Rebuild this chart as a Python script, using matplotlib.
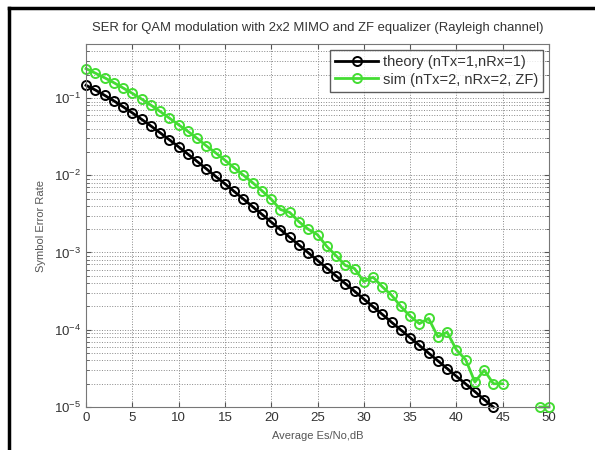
import numpy as np
import matplotlib.pyplot as plt
from matplotlib.lines import Line2D

# Es/No axis (dB)
snr_theory = list(range(0, 45))
snr_sim = list(range(0, 51))

ser_theory = [0.146, 0.127, 0.1085, 0.0919, 0.0771, 0.0642, 0.0530, 0.0435, 0.0355, 0.0288,
              0.0233, 0.0188, 0.0151, 0.0121, 0.00967, 0.00774, 0.00617, 0.00492, 0.00391, 0.00312,
              0.00248, 0.00198, 0.00157, 0.00125, 0.000994, 0.000790, 0.000628, 0.000499, 0.000396, 0.000315,
              0.000250, 0.000199, 0.000158, 0.000125, 9.95e-5, 7.91e-5, 6.28e-5, 4.99e-5, 3.96e-5, 3.15e-5,
              2.50e-5, 1.99e-5, 1.58e-5, 1.25e-5, 9.95e-6]

# nan = no errors counted (not drawn on log scale)
ser_sim = [0.24, 0.21, 0.183, 0.158, 0.135, 0.115, 0.097, 0.081, 0.067, 0.055,
           0.045, 0.037, 0.030, 0.024, 0.0195, 0.0157, 0.0125, 0.0100, 0.0080, 0.0063,
           0.0049, 0.0036, 0.0033, 0.0025, 0.0020, 0.0017, 0.0012, 0.00091, 0.00068, 0.00062,
           0.00042, 0.00048, 0.00036, 0.00028, 0.00020, 0.00015, 0.00012, 0.00014, 8.1e-5, 9.3e-5,
           5.5e-5, 4.1e-5, 2.1e-5, 3.0e-5, 2.0e-5, 2.0e-5, np.nan, np.nan, np.nan, 1e-5,
           1e-5]

labels = ['theory (nTx=1,nRx=1)', 'sim (nTx=2, nRx=2, ZF)']
green = '#44dd33'
txt = '#333333'

plt.rcParams['font.family'] = 'Liberation Sans'
plt.rcParams['mathtext.default'] = 'regular'

fig = plt.figure(figsize=(5.95, 4.5), dpi=100)
ax = fig.add_axes([86/595, 43/450, 463/595, 363/450])

ax.semilogy(snr_theory, ser_theory, 'o-', color='k', lw=2, ms=6.5, mfc='none', mew=1.4,
            label=labels[0], clip_on=False)
ax.semilogy(snr_sim, ser_sim, 'o-', color=green, lw=2, ms=6.5, mfc='none', mew=1.4,
            label=labels[1], clip_on=False)

ax.set_xlim(0, 50)
ax.set_ylim(1e-5, 0.5)
ax.set_xticks(range(0, 51, 5))
ax.grid(True, which='major', ls=':', color='#888888', lw=0.7)
ax.grid(True, which='minor', axis='y', ls=':', color='#888888', lw=0.7)
ax.tick_params(which='both', direction='in', top=True, right=True, labelsize=9.5, colors='#555555',
               labelcolor=txt)
for s in ax.spines.values():
    s.set_color('#777777')

ax.set_title('SER for QAM modulation with 2x2 MIMO and ZF equalizer (Rayleigh channel)',
             fontsize=9.4, color=txt, pad=9)
ax.set_xlabel('Average Es/No,dB', fontsize=8, color='#555555', labelpad=5)
ax.set_ylabel('Symbol Error Rate', fontsize=8, color='#555555', labelpad=6)

leg = ax.legend(loc='upper right', fontsize=10.5, frameon=True, fancybox=False,
                edgecolor='#333333', borderaxespad=0.4, handlelength=3, handletextpad=0.3,
                labelspacing=0.25, borderpad=0.35, labelcolor=txt)
leg.get_frame().set_linewidth(1)

# black frame on left and top of the picture
fig.add_artist(Line2D([9/595, 9/595], [0, 1 - 8/450], color='k', lw=2.5))
fig.add_artist(Line2D([9/595, 1], [1 - 8/450, 1 - 8/450], color='k', lw=2.5))

fig.savefig('out.png', dpi=100)
